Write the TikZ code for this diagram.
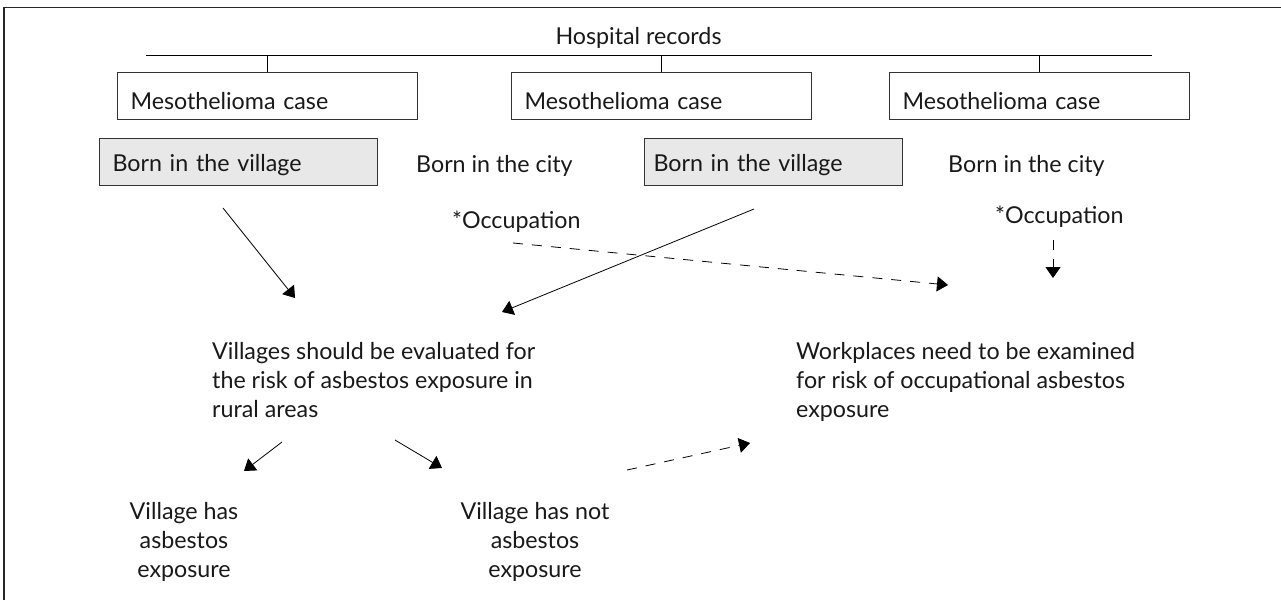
\documentclass[tikz,border=0pt]{standalone}
\usepackage{fontspec}
\setmainfont{Lato}
\usetikzlibrary{arrows.meta}
\newlength\mylen
\begin{document}
\settowidth{\mylen}{\fontsize{10}{12}\selectfont Villages should be evaluated for Workplaces need to be examined Mesothelioma case Born in the village Born in the city *Occupation Hospital records}%
\pgfmathsetmacro\fs{1528/\mylen*10}%
\begin{tikzpicture}[x=1pt,y=-1pt]
\tikzset{
  every node/.style={font=\fontsize{\fs}{29}\selectfont, text=black!90},
  casebox/.style={draw=black!80, line width=1pt, anchor=north west, minimum height=47pt, inner xsep=13pt, inner ysep=0pt, text height=27pt, text depth=0pt, align=left},
  graybox/.style={casebox, fill=black!9, text height=19.5pt},
  plain/.style={inner sep=0pt},
  arr/.style={line width=0.8pt, -{Triangle[length=11pt,width=15pt]}},
  darr/.style={arr, dash pattern=on 10pt off 9pt}
}
\useasboundingbox (0,0) rectangle (1281,600);
% frame (cropped)
\draw[line width=1.8pt, black!85] (4,600) -- (4,7.5) -- (1281,7.5);

\node[plain, anchor=base] (hosp) at (638.5,44) {Hospital records};
\coordinate (hl) at (146,55);
\coordinate (hr) at (1152,55);
\draw[line width=1pt] (hl) -- (hr);

\node[casebox, text width=274pt] (m1) at (117,72) {Mesothelioma case};
\node[casebox, text width=274pt] (m2) at (511,72) {Mesothelioma case};
\node[casebox, text width=274pt] (m3) at (889,72) {Mesothelioma case};
\foreach \m in {m1,m2,m3} \draw[line width=1pt] (\m.north) -- (\m.north |- hl);

\node[graybox, inner xsep=13pt, text width=252pt] (v1) at (99,138) {Born in the village};
\node[plain, anchor=base west] (c1) at (416,172) {Born in the city};
\node[graybox, inner xsep=9pt, text width=240pt] (v2) at (644,138) {Born in the village};
\node[plain, anchor=base west] (c2) at (948,172) {Born in the city};

\node[plain, anchor=base west] (o1) at (452,228) {*Occupation};
\node[plain, anchor=base west] (o2) at (995,223) {*Occupation};

% multi-line nodes: base anchor = last line baseline
\node[plain, anchor=base west, align=left] (vill) at (212,417) {Villages should be evaluated for\\the risk of asbestos exposure in\\rural areas};
\node[plain, anchor=base west, align=left] (work) at (796,417) {Workplaces need to be examined\\for risk of occupational asbestos\\exposure};

\node[plain, anchor=base, align=center] (has) at (184,577) {Village has\\asbestos\\exposure};
\node[plain, anchor=base, align=center] (hasnot) at (535,577) {Village has not\\asbestos\\exposure};

% arrow end points
\coordinate (a1s) at (223,208); \coordinate (a1e) at (295,298);
\coordinate (a2s) at (754,209); \coordinate (a2e) at (502,312);
\coordinate (a3s) at (513,243); \coordinate (a3e) at (948,285);
\coordinate (a4s) at (1053,240); \coordinate (a4e) at (1053,278);
\coordinate (a5s) at (282,442); \coordinate (a5e) at (244,471);
\coordinate (a6s) at (395,440); \coordinate (a6e) at (442,468);
\coordinate (a7s) at (627,470); \coordinate (a7e) at (750,443);

\draw[arr] (a1s) -- (a1e);
\draw[arr] (a2s) -- (a2e);
\draw[darr] (a3s) -- (a3e);
\draw[darr] (a4s) -- (a4e);
\draw[arr] (a5s) -- (a5e);
\draw[arr] (a6s) -- (a6e);
\draw[darr] (a7s) -- (a7e);
\end{tikzpicture}
\end{document}
